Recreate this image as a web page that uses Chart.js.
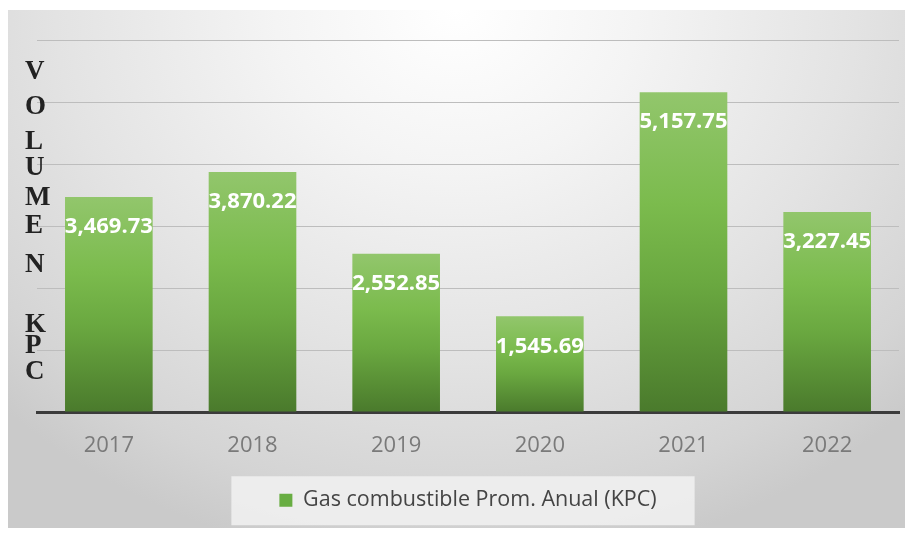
<!DOCTYPE html>
<html>
<head>
<meta charset="utf-8">
<script src="https://cdn.jsdelivr.net/npm/chart.js@4/dist/chart.umd.min.js"></script>
<style>
  html, body { margin: 0; padding: 0; background: #ffffff; }
  #wrap { position: relative; width: 914px; height: 536px; overflow: hidden; }
  #panel {
    position: absolute; left: 8px; top: 10px; width: 897px; height: 518px;
    background: radial-gradient(ellipse 72% 108% at 50% 0%, #ffffff 0%, #f4f4f4 28%, #e3e3e3 62%, #d4d4d4 88%, #cacaca 100%);
  }
  canvas { position: absolute; left: 0; top: 0; }
</style>
</head>
<body>
<div id="wrap">
  <div id="panel"></div>
  <canvas id="chart" width="914" height="536"></canvas>
</div>
<script>
// Annual average fuel gas volume (KPC)
const years = ['2017', '2018', '2019', '2020', '2021', '2022'];
const volumes = [3469.73, 3870.22, 2552.85, 1545.69, 5157.75, 3227.45];
const seriesName = 'Gas combustible Prom. Anual (KPC)';

// Vertical axis caption, one letter per line
const captionLetters = ['V', 'O', 'L', 'U', 'M', 'E', 'N', 'K', 'P', 'C'];
const captionLetterY = [72, 107, 142, 168, 198, 226, 265, 325, 346, 372];

const legendGreen = '#68ad42';

function fmt(v) {
  return v.toLocaleString('en-US', { minimumFractionDigits: 2, maximumFractionDigits: 2 });
}

// Each bar gets its own top-to-bottom green gradient
function barFill(ctx) {
  const chart = ctx.chart;
  if (!chart.chartArea || ctx.type !== 'data') return legendGreen;
  const y = chart.scales.y;
  const top = y.getPixelForValue(ctx.raw);
  const base = y.getPixelForValue(0);
  const g = chart.ctx.createLinearGradient(0, top, 0, base);
  g.addColorStop(0, '#92c66c');
  g.addColorStop(0.35, '#7bbb4d');
  g.addColorStop(0.6, '#6aa840');
  g.addColorStop(1, '#4a7a2c');
  return g;
}

// Light backdrop behind the legend entry
const legendBackdrop = {
  id: 'legendBackdrop',
  beforeDraw(chart) {
    const lg = chart.legend;
    if (!lg || !lg.legendHitBoxes || !lg.legendHitBoxes.length) return;
    const hb = lg.legendHitBoxes[0];
    const cy = hb.top + hb.height / 2;
    const c = chart.ctx;
    c.save();
    c.fillStyle = 'rgba(240,240,240,0.9)';
    c.fillRect(hb.left - 48, cy - 24, hb.width + 86, 49);
    c.restore();
  }
};

// Value labels inside the top of each bar
const barValues = {
  id: 'barValues',
  afterDatasetsDraw(chart) {
    const meta = chart.getDatasetMeta(0);
    const c = chart.ctx;
    c.save();
    c.font = 'bold 22px "Open Sans"';
    c.fillStyle = '#ffffff';
    c.textAlign = 'center';
    c.textBaseline = 'middle';
    meta.data.forEach((bar, i) => {
      c.fillText(fmt(chart.data.datasets[0].data[i]), bar.x, bar.y + 30);
    });
    c.restore();
  }
};

// Stacked-letter caption for the value axis
const axisCaption = {
  id: 'axisCaption',
  afterDraw(chart) {
    const c = chart.ctx;
    c.save();
    c.font = 'bold 27px "Liberation Serif"';
    c.fillStyle = '#222222';
    c.textAlign = 'left';
    c.textBaseline = 'middle';
    captionLetters.forEach((ch, i) => c.fillText(ch, 25, captionLetterY[i]));
    c.restore();
  }
};

Chart.defaults.font.family = '"Open Sans", sans-serif';

new Chart(document.getElementById('chart'), {
  type: 'bar',
  data: {
    labels: years,
    datasets: [{
      label: seriesName,
      data: volumes,
      backgroundColor: barFill,
      borderWidth: 0,
      barPercentage: 0.61,
      categoryPercentage: 1.0
    }]
  },
  options: {
    responsive: false,
    animation: false,
    layout: { padding: { left: 37, right: 15, top: 40, bottom: 15 } },
    scales: {
      x: {
        grid: { display: false, drawTicks: false },
        border: { display: true, color: '#3b3b3b', width: 3 },
        ticks: { color: '#7a7a7a', font: { size: 22 }, padding: 20 }
      },
      y: {
        min: 0,
        max: 6000,
        ticks: { display: false, stepSize: 1000 },
        grid: { color: '#bdbdbd', lineWidth: 1, drawTicks: false },
        border: { display: false }
      }
    },
    plugins: {
      tooltip: { enabled: false },
      legend: {
        position: 'bottom',
        labels: {
          color: '#444444',
          font: { size: 21.5 },
          boxWidth: 13,
          boxHeight: 13,
          padding: 11,
          generateLabels(chart) {
            const items = Chart.defaults.plugins.legend.labels.generateLabels(chart);
            items.forEach(it => { it.fillStyle = legendGreen; it.strokeStyle = legendGreen; it.lineWidth = 0; });
            return items;
          }
        }
      }
    }
  },
  plugins: [legendBackdrop, barValues, axisCaption]
});
</script>
</body>
</html>
